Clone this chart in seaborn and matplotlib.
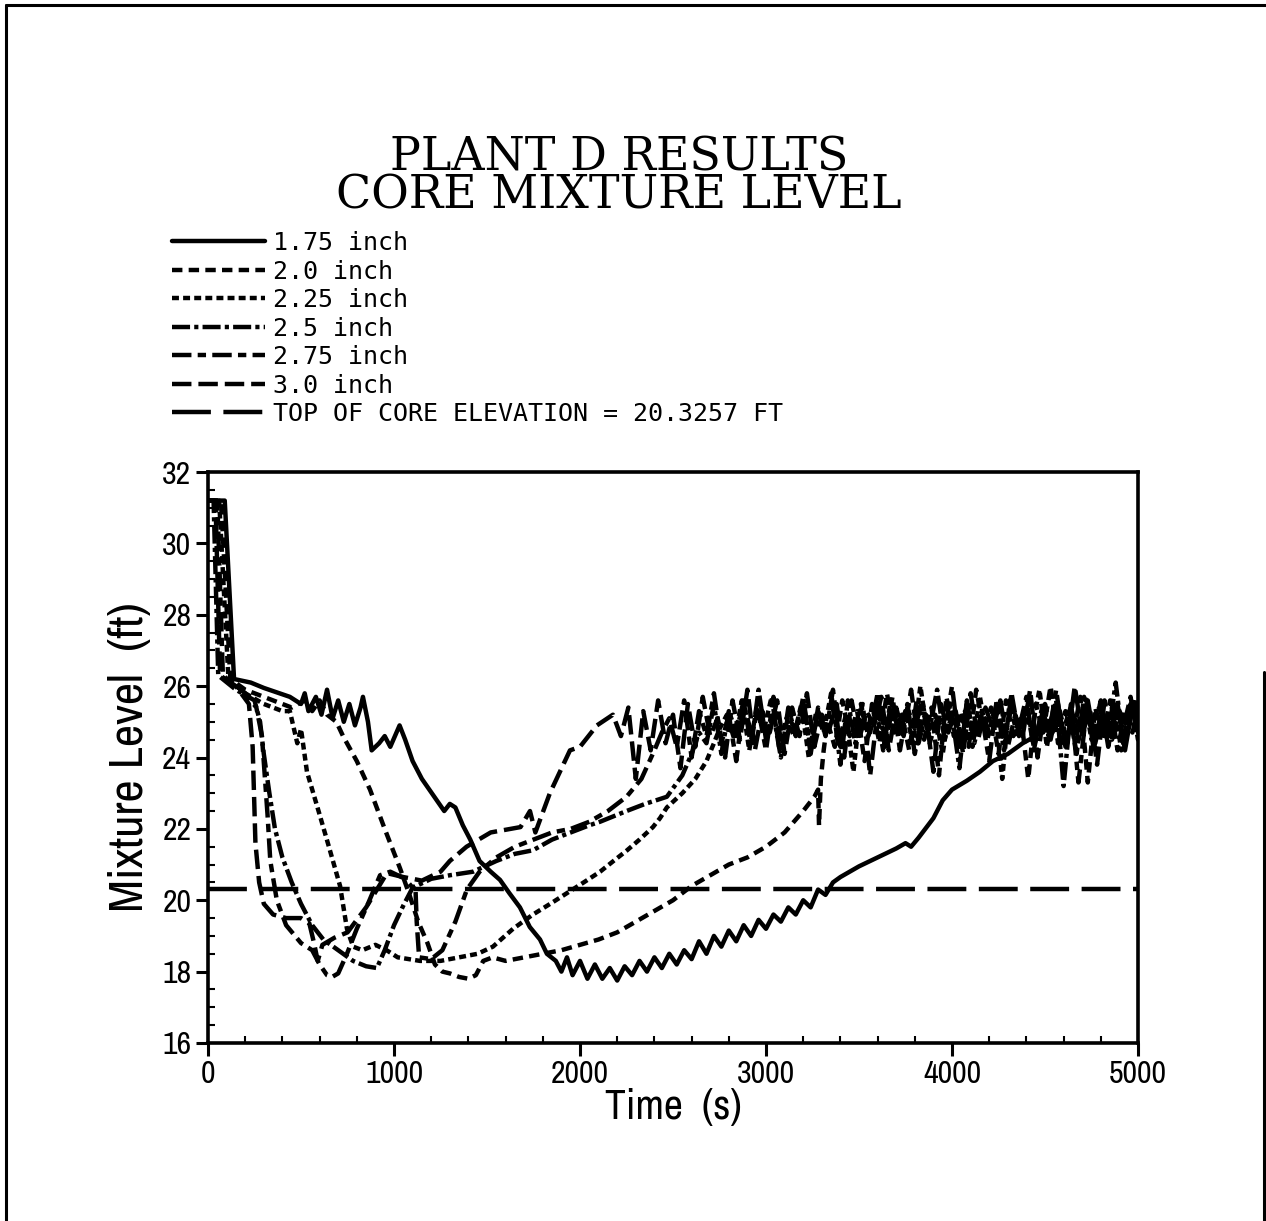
import matplotlib.pyplot as plt
import matplotlib.lines as mlines
from matplotlib import font_manager
from matplotlib.ticker import MultipleLocator
import numpy as np
import pandas as pd
import seaborn as sns

# ---- data (time in s, mixture level in ft) ----
cases = ['1.75 inch', '2.0 inch', '2.25 inch', '2.5 inch', '2.75 inch', '3.0 inch']
core_top = 20.3257
tail_step = 40

pts_175 = [(0, 31.2), (90, 31.2), (140, 26.2), (230, 26.1), (300, 25.95), (440, 25.7), (500, 25.5),
           (520, 25.8), (540, 25.3), (580, 25.7), (610, 25.2), (640, 25.9), (670, 25.1), (700, 25.6),
           (730, 25.0), (760, 25.5), (790, 24.9), (820, 25.4), (833, 25.7), (860, 25.0), (880, 24.2),
           (920, 24.4), (950, 24.6), (980, 24.3), (1030, 24.9), (1060, 24.5), (1100, 23.9), (1150, 23.4),
           (1190, 23.1), (1230, 22.8), (1270, 22.5), (1300, 22.7), (1330, 22.6), (1370, 22.1), (1410, 21.7),
           (1460, 21.1), (1520, 20.8), (1570, 20.57), (1620, 20.2), (1677, 19.8), (1730, 19.25), (1785, 18.9),
           (1822, 18.5), (1870, 18.3), (1900, 18.0), (1930, 18.4), (1960, 17.9), (2000, 18.3), (2040, 17.8),
           (2080, 18.2), (2120, 17.8), (2160, 18.1), (2200, 17.75), (2240, 18.15), (2280, 17.9), (2320, 18.3),
           (2360, 18.0), (2400, 18.4), (2440, 18.1), (2480, 18.5), (2520, 18.2), (2560, 18.6), (2600, 18.35),
           (2640, 18.85), (2680, 18.5), (2720, 19.0), (2760, 18.7), (2800, 19.15), (2840, 18.85), (2880, 19.3),
           (2920, 19.0), (2960, 19.45), (3000, 19.2), (3040, 19.6), (3080, 19.4), (3120, 19.8), (3160, 19.6),
           (3200, 20.0), (3240, 19.8), (3280, 20.3), (3320, 20.15), (3360, 20.5), (3400, 20.65), (3500, 20.95),
           (3600, 21.2), (3700, 21.45), (3750, 21.6), (3780, 21.5), (3820, 21.75), (3900, 22.3), (3950, 22.8),
           (4000, 23.1), (4080, 23.35), (4150, 23.6), (4220, 23.9), (4300, 24.1), (4380, 24.4), (4450, 24.6)]
tail_175_start = 4490
tail_175 = [25.3, 24.5, 25.5, 24.3, 25.2, 24.8, 25.6, 24.4, 25.3, 24.6, 25.5, 24.2, 25.4, 24.7]

pts_20 = [(0, 31.2), (70, 31.2), (120, 26.2), (200, 25.9), (300, 25.7), (450, 25.4), (520, 25.6), (560, 25.3),
          (600, 25.6), (640, 25.2), (690, 25.0), (726, 24.6), (800, 23.9), (871, 23.1), (950, 22.0),
          (1032, 20.9), (1080, 20.2), (1130, 19.4), (1180, 18.8), (1220, 18.2), (1260, 18.0), (1300, 17.95),
          (1350, 17.85), (1400, 17.8), (1440, 17.9), (1480, 18.3), (1530, 18.4), (1600, 18.3), (1700, 18.4),
          (1800, 18.5), (1900, 18.6), (2000, 18.75), (2100, 18.9), (2200, 19.1), (2300, 19.4), (2400, 19.7),
          (2500, 20.0), (2600, 20.4), (2700, 20.7), (2800, 21.0), (2900, 21.2), (3000, 21.5), (3100, 21.9),
          (3200, 22.5), (3260, 22.9), (3280, 23.1), (3285, 22.1), (3295, 23.4), (3310, 24.2)]
tail_20_start = 3330
tail_20 = [25.0, 24.3, 25.6, 24.6, 25.3, 23.9, 25.5, 24.4, 25.8, 24.7, 25.2, 24.2, 25.6, 24.5, 25.4,
           23.5, 25.7, 24.6, 25.3, 24.3, 25.9, 24.8, 25.4, 24.1, 25.6, 24.6, 25.2, 23.4, 25.5, 24.7,
           26.0, 24.4, 25.3, 24.6, 25.7, 23.3, 25.4, 24.5, 25.6, 24.2, 25.3, 24.7, 25.5, 24.4]

pts_225 = [(0, 31.2), (60, 31.2), (110, 26.2), (200, 25.8), (300, 25.5), (400, 25.3), (440, 25.3),
           (480, 24.4), (500, 24.8), (532, 23.6), (600, 22.4), (650, 21.5), (710, 20.4), (747, 19.2),
           (780, 18.7), (830, 18.6), (900, 18.75), (960, 18.6), (1020, 18.4), (1080, 18.35), (1140, 18.3),
           (1250, 18.3), (1350, 18.4), (1450, 18.5), (1532, 18.7), (1640, 19.2), (1747, 19.6), (1840, 19.9),
           (1930, 20.2), (2020, 20.5), (2108, 20.8), (2180, 21.1), (2253, 21.4), (2320, 21.7), (2392, 22.05),
           (2430, 22.3), (2467, 22.6), (2550, 23.0), (2620, 23.4), (2680, 23.9), (2720, 24.4), (2750, 24.8)]
tail_225_start = 2790
tail_225 = [25.2, 24.5, 25.6, 24.2, 25.4, 24.8, 25.7, 24.3, 25.1, 24.6, 25.5, 24.0, 25.3, 24.7, 25.8,
            24.4, 25.2, 23.6, 25.5, 24.6, 25.4, 24.2, 25.6, 24.8, 25.3, 24.4, 26.0, 24.6, 25.2, 24.1,
            25.5, 24.7, 25.3, 24.3, 25.7, 24.5, 25.4, 23.4, 25.6, 24.6, 25.2, 24.8, 25.9, 24.3, 25.5,
            24.6, 25.3, 24.1, 25.7, 24.5, 25.4, 24.8, 25.6, 24.2, 25.3, 24.7, 25.5]

pts_25 = [(0, 31.2), (30, 31.2), (55, 26.3), (150, 25.9), (250, 25.6), (280, 25.0), (300, 24.1), (330, 23.0),
          (360, 22.0), (400, 21.2), (450, 20.5), (500, 19.9), (560, 19.3), (620, 18.9), (700, 18.6),
          (780, 18.3), (850, 18.15), (908, 18.1), (950, 18.6), (1000, 19.3), (1050, 19.85), (1100, 20.35),
          (1200, 20.6), (1300, 20.7), (1425, 20.8), (1550, 21.1), (1650, 21.3), (1747, 21.4), (1850, 21.7),
          (1950, 21.9), (2050, 22.1), (2108, 22.2), (2250, 22.5), (2350, 22.7), (2467, 22.9), (2550, 23.5),
          (2600, 24.1), (2640, 24.7)]
tail_25_start = 2680
tail_25 = [24.4, 25.5, 24.1, 25.3, 24.7, 25.6, 24.3, 25.9, 24.5, 25.2, 24.0, 25.4, 24.6, 25.7, 24.2,
           25.3, 24.8, 25.5, 23.8, 25.6, 24.4, 25.2, 24.7, 25.8, 24.3, 25.4, 24.6, 25.5, 24.1, 25.3,
           24.8, 25.9, 24.5, 25.2, 23.7, 25.6, 24.4, 25.3, 24.7, 25.5, 24.2, 25.8, 24.6, 25.4, 24.3,
           25.1, 24.8, 25.6, 23.2, 25.4, 24.5, 25.7, 24.3, 25.2, 24.6, 26.1, 24.4, 25.5, 24.7, 25.3]

pts_275 = [(0, 31.2), (50, 31.2), (80, 26.3), (200, 25.8), (260, 25.4), (290, 24.6), (320, 22.4), (335, 21.1),
           (370, 20.0), (420, 19.3), (500, 18.8), (560, 18.6), (600, 18.2), (640, 17.9), (667, 17.85),
           (700, 17.95), (747, 18.5), (800, 19.2), (860, 19.9), (925, 20.7), (980, 20.8), (1060, 20.6),
           (1100, 20.35), (1115, 20.4), (1122, 19.4), (1135, 18.4), (1200, 18.35), (1260, 18.6), (1330, 19.4),
           (1392, 20.3), (1460, 20.8), (1550, 21.2), (1650, 21.5), (1750, 21.7), (1850, 21.9), (1950, 22.0),
           (2050, 22.2), (2150, 22.5), (2250, 22.9), (2330, 23.4), (2400, 24.2), (2440, 24.7)]
tail_275_start = 2480
tail_275 = [25.1, 24.3, 25.6, 24.0, 25.3, 24.6, 25.8, 24.4, 25.2, 23.9, 25.5, 24.7, 25.3, 24.2, 25.7,
            24.5, 25.1, 24.8, 25.6, 24.1, 25.4, 24.6, 25.9, 24.3, 25.2, 24.7, 25.5, 23.5, 25.3, 24.6,
            25.7, 24.2, 25.4, 24.8, 25.6, 24.4, 25.1, 24.7, 26.0, 24.3, 25.5, 24.6, 25.2, 23.9, 25.6,
            24.5, 25.4, 24.8, 25.7, 24.2, 25.3, 24.6, 25.9, 24.4, 25.5, 23.3, 25.2, 24.7, 25.6, 24.3,
            25.4, 24.8, 25.7, 24.5, 25.3]

pts_30 = [(0, 31.2), (40, 31.2), (65, 26.3), (150, 26.0), (220, 25.5), (240, 24.3), (255, 21.6), (275, 20.5),
          (300, 19.9), (350, 19.6), (420, 19.5), (500, 19.5), (545, 19.35), (570, 18.8), (590, 18.3),
          (615, 18.75), (680, 18.95), (750, 19.1), (850, 19.8), (962, 20.76), (1050, 20.65), (1150, 20.55),
          (1250, 20.8), (1300, 21.1), (1390, 21.5), (1520, 21.9), (1680, 22.05), (1731, 22.5), (1760, 21.9),
          (1838, 23.0), (1946, 24.2), (2000, 24.3), (2091, 24.9), (2177, 25.2)]
tail_30_start = 2220
tail_30 = [24.6, 25.4, 23.4, 25.3, 24.2, 25.6, 24.4, 25.2, 23.7, 25.5, 24.3, 25.7, 24.6, 25.1, 24.0,
           25.6, 24.5, 25.9, 24.2, 25.3, 24.7, 25.6, 24.1, 25.4, 24.6, 25.8, 24.3, 25.2, 24.8, 25.5,
           24.0, 25.6, 24.5, 25.3, 24.9, 25.7, 24.2, 25.4, 24.6, 25.9, 24.4, 25.2, 23.6, 25.5, 24.7,
           25.3, 24.1, 25.8, 24.5, 25.4, 24.8, 25.6, 24.3, 25.2, 24.6, 25.9, 24.0, 25.5, 24.7, 25.3,
           24.4, 26.0, 24.6, 25.4, 23.8, 25.6, 24.5, 25.3, 24.9, 25.7, 24.2, 25.5]

x_ticks = [0, 1000, 2000, 3000, 4000, 5000]
y_ticks = [16, 18, 20, 22, 24, 26, 28, 30, 32]

# line styles (points, not scaled by width)
dash_map = {'1.75 inch': '', '2.0 inch': (7.5, 4.5), '2.25 inch': (5, 3),
            '2.5 inch': (13, 3, 3, 3), '2.75 inch': (14, 4.5, 6, 4.5), '3.0 inch': (14, 5)}
core_dash = (28, 9)

curves = [(pts_175, tail_175_start, tail_175), (pts_20, tail_20_start, tail_20),
          (pts_225, tail_225_start, tail_225), (pts_25, tail_25_start, tail_25),
          (pts_275, tail_275_start, tail_275), (pts_30, tail_30_start, tail_30)]
rows = []
for case, (pts, start, tail) in zip(cases, curves):
    for t, y in pts:
        rows.append((case, t, y))
    for i, y in enumerate(tail):
        rows.append((case, start + tail_step * i, y))
df = pd.DataFrame(rows, columns=['case', 'time', 'level'])

sns.set_theme(style='white')
plt.rcParams['font.family'] = ['DejaVu Sans']
plt.rcParams['lines.scale_dashes'] = False
plt.rcParams['text.color'] = 'black'
plt.rcParams['axes.labelcolor'] = 'black'
plt.rcParams['xtick.color'] = 'black'
plt.rcParams['ytick.color'] = 'black'

# tall narrow lettering for the axes, if a condensed face is installed
fonts = font_manager.fontManager.ttflist
narrow = None
for f in fonts:
    if 'Narrow' in f.name or 'Condensed' in f.name:
        narrow = dict(family=f.name)
        break
if narrow is None:
    for f in fonts:
        if 'condensed' in str(f.stretch) and f.name in ('Noto Sans', 'DejaVu Sans', 'Roboto', 'Open Sans'):
            narrow = dict(family=f.name, stretch=f.stretch)
            break
if narrow is None:
    narrow = dict(family='Liberation Sans')
    tick_size, xlabel_size, ylabel_size = 19, 26, 30
else:
    tick_size, xlabel_size, ylabel_size = 23, 30, 35

fig = plt.figure(figsize=(12.66, 12.21), dpi=100)
ax = fig.add_axes([0.1643, 0.1458, 0.7346, 0.4676])

lw = 3.2
sns.lineplot(data=df, x='time', y='level', style='case', style_order=cases, dashes=dash_map,
             color='black', linewidth=lw, estimator=None, sort=False, legend=False, ax=ax)
ax.axhline(core_top, color='black', linewidth=lw, dashes=core_dash)

ax.set_xlim(0, 5000)
ax.set_ylim(16, 32)
ax.set_xticks(x_ticks)
ax.set_yticks(y_ticks)
ax.xaxis.set_minor_locator(MultipleLocator(200))
ax.yaxis.set_minor_locator(MultipleLocator(0.5))
ax.tick_params(which='major', direction='out', length=9, width=2.2, color='black',
               bottom=True, left=True, top=False, right=False, pad=3)
ax.tick_params(which='minor', direction='in', length=5, width=1.5, color='black',
               bottom=True, left=True, top=False, right=False)
for lbl in ax.get_xticklabels() + ax.get_yticklabels():
    lbl.set_fontsize(tick_size)
    lbl.set(**narrow)
for s in ax.spines.values():
    s.set_color('black')
    s.set_linewidth(2.6)

ax.set_xlabel('Time  (s)', fontsize=xlabel_size, labelpad=0, color='black', **narrow)
ax.set_ylabel('Mixture Level  (ft)', fontsize=ylabel_size, labelpad=8, color='black', **narrow)

fig.text(0.489, 1 - 177 / 1221, 'PLANT D RESULTS\nCORE MIXTURE LEVEL', ha='center', va='center',
         multialignment='center', linespacing=0.78, family='DejaVu Serif', fontsize=33, color='black')

handles = [mlines.Line2D([], [], color='black', linewidth=lw, dashes=dash_map[c]) if dash_map[c]
           else mlines.Line2D([], [], color='black', linewidth=lw) for c in cases]
handles.append(mlines.Line2D([], [], color='black', linewidth=lw, dashes=core_dash))
labels = cases + ['TOP OF CORE ELEVATION = 20.3257 FT']
fig.legend(handles, labels, loc='upper left', bbox_to_anchor=(172 / 1266, 1 - 231 / 1221),
           frameon=False, prop=dict(family='DejaVu Sans Mono', size=18),
           handlelength=3.7, handletextpad=0.35, labelspacing=0.18, borderpad=0, borderaxespad=0)

# page frame
frame_kw = dict(transform=fig.transFigure, color='black', linewidth=2.2)
fig.add_artist(mlines.Line2D([6 / 1266, 1], [1 - 5 / 1221, 1 - 5 / 1221], **frame_kw))
fig.add_artist(mlines.Line2D([6 / 1266, 6 / 1266], [0, 1 - 5 / 1221], **frame_kw))
fig.add_artist(mlines.Line2D([1264 / 1266, 1264 / 1266], [0, 1 - 672 / 1221], **frame_kw))

fig.savefig('out.png', dpi=100, facecolor='white')
